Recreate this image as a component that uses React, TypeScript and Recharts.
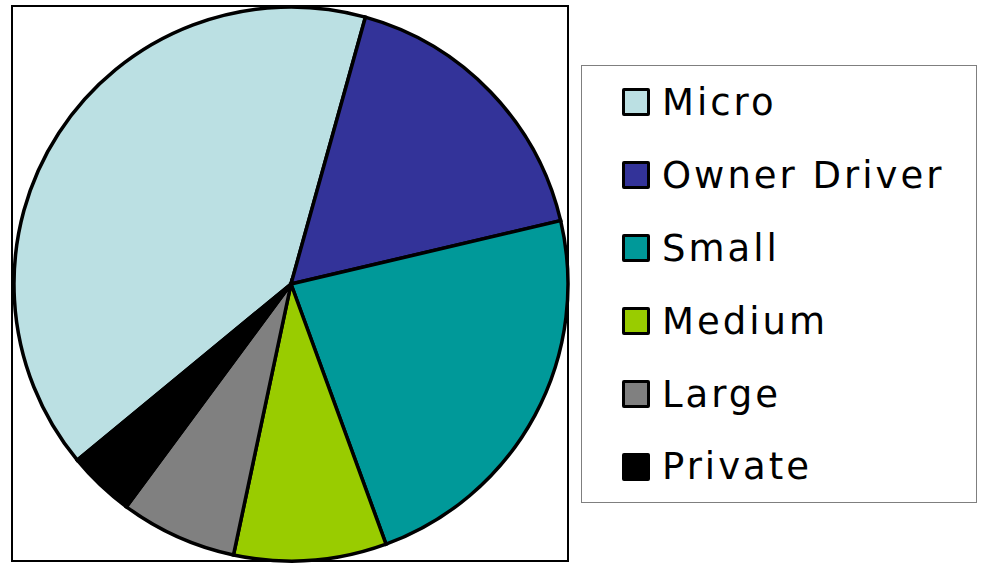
import { PieChart, Pie, Cell, Legend } from 'recharts';

const categories = ['Micro', 'Owner Driver', 'Small', 'Medium', 'Large', 'Private'];
const shares = [40.3, 17.0, 23.1, 8.9, 6.8, 3.9];
const colors = ['#BBE0E3', '#333399', '#009999', '#99CC00', '#808080', '#000000'];

const data = categories.map((name, i) => ({ name, value: shares[i] }));

const FONT = "'DejaVu Sans', Verdana, sans-serif";

// recharts sorts pie legend entries, so keep the series order from our own arrays
function LegendBox() {
  return (
    <div
      style={{
        boxSizing: 'border-box', width: 396, height: 438,
        border: '1.5px solid #7f7f7f', background: '#fff',
        paddingTop: 0, paddingLeft: 40,
      }}
    >
      {categories.map((label, i) => (
        <div key={label} style={{ display: 'flex', alignItems: 'center', height: 72.9 }}>
          <span
            style={{
              boxSizing: 'border-box', width: 28, height: 28, background: colors[i],
              border: '3px solid #000', borderRadius: 2, marginRight: 12, flexShrink: 0,
            }}
          />
          <span style={{ fontFamily: FONT, fontSize: 37, letterSpacing: 3, color: '#000', lineHeight: 1, whiteSpace: 'nowrap' }}>
            {label}
          </span>
        </div>
      ))}
    </div>
  );
}

export default function App() {
  return (
    <div style={{ position: 'absolute', left: 0, top: 0, width: 981, height: 563, background: '#fff' }}>
      <div
        style={{
          position: 'absolute', left: 11, top: 5, width: 558, height: 557,
          boxSizing: 'border-box', border: '2.5px solid #000',
        }}
      />
      <PieChart width={981} height={563} margin={{ top: 0, right: 0, bottom: 0, left: 0 }}>
        <Pie
          data={data}
          dataKey="value"
          nameKey="name"
          cx={291}
          cy={284}
          outerRadius={277}
          startAngle={219.5}
          endAngle={-140.5}
          stroke="#000"
          strokeWidth={3.5}
          isAnimationActive={false}
          label={false}
          labelLine={false}
        >
          {data.map((d, i) => (
            <Cell key={d.name} fill={colors[i]} stroke="#000" strokeWidth={3.5} />
          ))}
        </Pie>
        <Legend
          layout="vertical"
          align="right"
          verticalAlign="top"
          content={() => <LegendBox />}
          wrapperStyle={{ left: 581, top: 65, width: 396, height: 438 }}
        />
      </PieChart>
    </div>
  );
}
